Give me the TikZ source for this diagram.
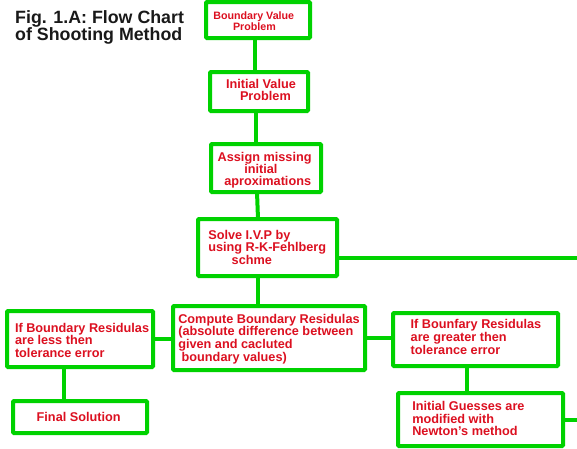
\documentclass[tikz,border=0pt]{standalone}
\usepackage{fontspec}
\setmainfont{Liberation Sans}
\definecolor{grn}{RGB}{0,210,0}
\definecolor{txtred}{RGB}{220,16,32}
\begin{document}
\begin{tikzpicture}[x=1pt,y=-1pt,
  box/.style={draw=grn, line width=4pt, fill=white, inner sep=0pt, outer sep=0pt, rectangle, rounded corners=1pt},
  lbl/.style={anchor=base west, inner sep=0pt, outer sep=0pt, text=txtred, align=left, font=\bfseries\fontsize{12.7}{12.6}\selectfont},
  wire/.style={draw=grn, line width=4pt}]
\useasboundingbox (0,0) rectangle (577,448);
\fill[white] (0,0) rectangle (577,448);
% title (anchor on the baseline of its last line)
\node[anchor=base west, inner sep=0pt, align=left, font=\bfseries\fontsize{17.8}{17}\selectfont, text=black!90] (title) at (15,40) {Fig. 1.A: Flow Chart\\of Shooting Method};
% boxes
\node[box, minimum width=104pt, minimum height=36pt] (b1) at (258,20) {};
\node[box, minimum width=98pt, minimum height=39pt] (b2) at (259,91.5) {};
\node[box, minimum width=110pt, minimum height=48pt] (b3) at (266,168) {};
\node[box, minimum width=139pt, minimum height=57pt] (b4) at (267.5,247.5) {};
\node[box, minimum width=192pt, minimum height=64pt] (b5) at (269,338) {};
\node[box, minimum width=146pt, minimum height=56pt] (b6) at (80,339) {};
\node[box, minimum width=134pt, minimum height=32pt] (b7) at (80,417) {};
\node[box, minimum width=165pt, minimum height=53pt] (b8) at (475.5,339.5) {};
\node[box, minimum width=165pt, minimum height=53pt] (b9) at (480.5,419.5) {};
% exits
\coordinate (exitA) at (577,258);
\coordinate (exitB) at (577,420);
% connectors
\draw[wire] ([xshift=-3pt]b1.south) -- ([xshift=-4pt]b2.north);
\draw[wire] ([xshift=-3pt]b2.south) -- ([xshift=-10pt]b3.north);
\draw[wire] ([xshift=-9pt]b3.south) -- ([xshift=-9.5pt]b4.north);
\draw[wire] ([xshift=-9.8pt]b4.south) -- ([xshift=-11.3pt]b5.north);
\draw[wire] (b4.east |- exitA) -- (exitA);
\draw[wire] (b6.east) -- (b6.east -| b5.west);
\draw[wire] (b5.east) -- (b5.east -| b8.west);
\draw[wire] ([xshift=-16pt]b6.south) -- ([xshift=-16pt]b7.north);
\draw[wire] ([xshift=-8.5pt]b8.south) -- ([xshift=-13.5pt]b9.north);
\draw[wire] (b9.east |- exitB) -- (exitB);
% labels (anchor on the baseline of the last line)
\node[lbl, font=\bfseries\fontsize{10.7}{11}\selectfont] (t1) at (213.3,30) {Boundary Value\\\hspace*{19.7pt}Problem};
\node[lbl, font=\bfseries\fontsize{12.7}{11.8}\selectfont] (t2) at (226,100) {Initial Value\\\hspace*{14pt}Problem};
\node[lbl, font=\bfseries\fontsize{12.7}{12}\selectfont] (t3) at (217.7,185) {Assign missing\\\hspace*{26.6pt}initial\\\hspace*{6.6pt}aproximations};
\node[lbl] (t4) at (208.3,264.3) {Solve I.V.P by\\using R-K-Fehlberg\\\hspace*{23.4pt}schme};
\node[lbl] (t5) at (178.3,361) {Compute Boundary Residulas\\(absolute difference between\\given and cacluted\\\hspace*{3.4pt}boundary values)};
\node[lbl] (t6) at (15,357.3) {If Boundary Residulas\\are less then\\tolerance error};
\node[lbl] (t7) at (36.7,421.7) {Final Solution};
\node[lbl] (t8) at (410.7,354) {If Bounfary Residulas\\are greater then\\tolerance error};
\node[lbl] (t9) at (412.3,435.7) {Initial Guesses are\\modified with\\Newton{\char39}s method};
\end{tikzpicture}
\end{document}
